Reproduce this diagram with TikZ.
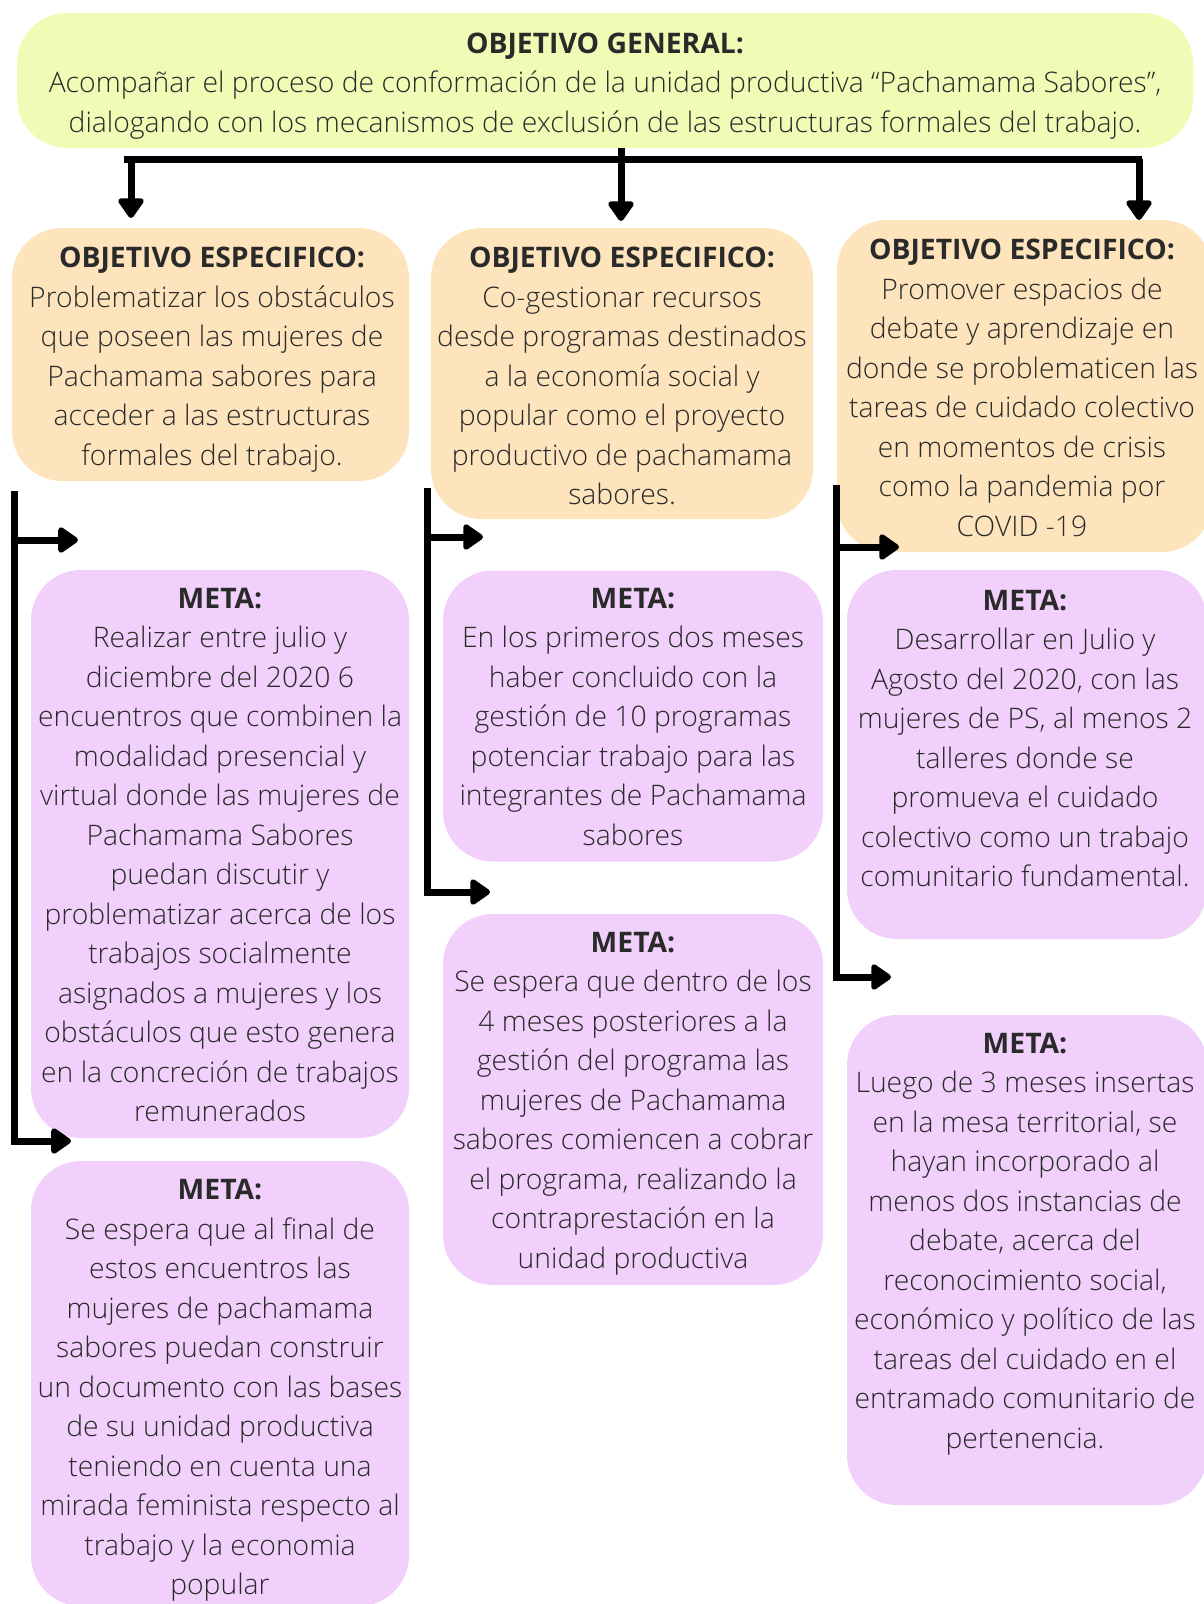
\documentclass[tikz,border=0pt]{standalone}
\usepackage{fontspec}
\setmainfont{Open Sans Light}[BoldFont={Open Sans Bold}]
\usetikzlibrary{arrows.meta}

\definecolor{genfill}{HTML}{F0FBB6}
\definecolor{objfill}{HTML}{FDE4BC}
\definecolor{metafill}{HTML}{F2D0FC}
\definecolor{bodytext}{HTML}{2A2A2A}

\begin{document}
\begin{tikzpicture}[x=1pt,y=-1pt,
  panel/.style={draw=none, rounded corners=50pt, inner sep=0pt, outer sep=0pt},
  genbox/.style={panel, fill=genfill},
  objbox/.style={panel, fill=objfill},
  metabox/.style={panel, fill=metafill},
  % texts are placed by the baseline of their last line (39.5pt line pitch)
  label/.style={anchor=base, align=center, inner sep=0pt, text=bodytext,
    font=\fontsize{28.3}{39.5}\selectfont},
  link/.style={line width=7pt, -{Triangle[length=22pt,width=29pt,round]}},
  bar/.style={line width=7pt}]

% page frame
\useasboundingbox (0,0) rectangle (1203,1604);

% ---------- panels ----------
\node[genbox,  minimum width=1176pt, minimum height=135pt] (gen) at (605,80.5) {};
\node[objbox,  minimum width=397pt, minimum height=253pt] (oe1) at (210.5,354.5) {};
\node[objbox,  minimum width=382pt, minimum height=291pt] (oe2) at (622,373.5) {};
\node[objbox,  minimum width=375pt, minimum height=332pt] (oe3) at (1024.5,386) {};
\node[metabox, minimum width=378pt, minimum height=568pt] (m1a) at (220,854) {};
\node[metabox, minimum width=378pt, minimum height=445pt] (m1b) at (220,1383.5) {};
\node[metabox, minimum width=380pt, minimum height=291pt] (m2a) at (633,716) {};
\node[metabox, minimum width=380pt, minimum height=371pt] (m2b) at (633,1099.5) {};
\node[metabox, minimum width=360pt, minimum height=369pt] (m3a) at (1027,754.5) {};
\node[metabox, minimum width=360pt, minimum height=490pt] (m3b) at (1027,1260) {};

% ---------- texts ----------
\node[label] (tgen) at (605,132) {\textbf{OBJETIVO GENERAL:}\\
  Acompañar el proceso de conformación de la unidad productiva “Pachamama Sabores”,\\
  dialogando con los mecanismos de exclusión de las estructuras formales del trabajo.};

\node[label] (toe1) at (212,465) {\textbf{OBJETIVO ESPECIFICO:}\\
  Problematizar los obstáculos\\ que poseen las mujeres de\\ Pachamama sabores para\\
  acceder a las estructuras\\ formales del trabajo.};

\node[label] (toe2) at (622,504.5) {\textbf{OBJETIVO ESPECIFICO:}\\
  Co-gestionar recursos\\ desde programas destinados\\ a la economía social y\\
  popular como el proyecto\\ productivo de pachamama\\ sabores.};

\node[label] (toe3) at (1022,536) {\textbf{OBJETIVO ESPECIFICO:}\\
  Promover espacios de\\ debate y aprendizaje en\\ donde se problematicen las\\
  tareas de cuidado colectivo\\ en momentos de crisis\\ como la pandemia por\\ COVID -19};

\node[label] (tm1a) at (220,1121.5) {\textbf{META:}\\
  Realizar entre julio y\\ diciembre del 2020 6\\ encuentros que combinen la\\
  modalidad presencial y\\ virtual donde las mujeres de\\ Pachamama Sabores\\
  puedan discutir y\\ problematizar acerca de los\\ trabajos socialmente\\
  asignados a mujeres y los\\ obstáculos que esto genera\\ en la concreción de trabajos\\
  remunerados};

\node[label] (tm1b) at (220,1594.5) {\textbf{META:}\\
  Se espera que al final de\\ estos encuentros las\\ mujeres de pachamama\\
  sabores puedan construir\\ un documento con las bases\\ de su unidad productiva\\
  teniendo en cuenta una\\ mirada feminista respecto al\\ trabajo y la economia\\ popular};

\node[label] (tm2a) at (633,845) {\textbf{META:}\\
  En los primeros dos meses\\ haber concluido con la\\ gestión de 10 programas\\
  potenciar trabajo para las\\ integrantes de Pachamama\\ sabores};

\node[label] (tm2b) at (633,1268) {\textbf{META:}\\
  Se espera que dentro de los\\ 4 meses posteriores a la\\ gestión del programa las\\
  mujeres de Pachamama\\ sabores comiencen a cobrar\\ el programa, realizando la\\
  contraprestación en la\\ unidad productiva};

\node[label] (tm3a) at (1025,886.5) {\textbf{META:}\\
  Desarrollar en Julio y\\ Agosto del 2020, con las\\ mujeres de PS, al menos 2\\
  talleres donde se\\ promueva el cuidado\\ colectivo como un trabajo\\
  comunitario fundamental.};

\node[label] (tm3b) at (1025,1448) {\textbf{META:}\\
  Luego de 3 meses insertas\\ en la mesa territorial, se\\ hayan incorporado al\\
  menos dos instancias de\\ debate, acerca del\\ reconocimiento social,\\
  económico y político de las\\ tareas del cuidado en el\\ entramado comunitario de\\
  pertenencia.};

% ---------- connector points ----------
\coordinate (barL) at (124,159);
\coordinate (barR) at (1142,159);
\coordinate (splitL) at (131,159);
\coordinate (splitR) at (1139,159);
\coordinate (tipL) at (131,218);
\coordinate (tipM) at (621,221);
\coordinate (tipR) at (1139,220);

\coordinate (c1top) at (14,491);
\coordinate (c1a) at (14,540);
\coordinate (c1b) at (14,1141);
\coordinate (c1aend) at (78,540);
\coordinate (c1bend) at (71,1141);

\coordinate (c2top) at (427,488);
\coordinate (c2a) at (427,537);
\coordinate (c2b) at (427,892);
\coordinate (c2aend) at (483,537);
\coordinate (c2bend) at (490,892);

\coordinate (c3top) at (836,485);
\coordinate (c3a) at (836,547);
\coordinate (c3b) at (836,977);
\coordinate (c3aend) at (899,547);
\coordinate (c3bend) at (891,977);

% ---------- connectors ----------
\draw[bar] (barL) -- (barR);
\draw[link] (gen.south -| tipM) -- (tipM);
\draw[link] (splitL) -- (tipL);
\draw[link] (splitR) -- (tipR);

\draw[bar] (c1top) -- ([yshift=3.5pt]c1b);
\draw[link] ([xshift=-3.5pt]c1a) -- (c1aend);
\draw[link] ([xshift=-3.5pt]c1b) -- (c1bend);

\draw[bar] (c2top) -- ([yshift=3.5pt]c2b);
\draw[link] ([xshift=-3.5pt]c2a) -- (c2aend);
\draw[link] ([xshift=-3.5pt]c2b) -- (c2bend);

\draw[bar] (c3top) -- ([yshift=3.5pt]c3b);
\draw[link] ([xshift=-3.5pt]c3a) -- (c3aend);
\draw[link] ([xshift=-3.5pt]c3b) -- (c3bend);
\end{tikzpicture}
\end{document}
